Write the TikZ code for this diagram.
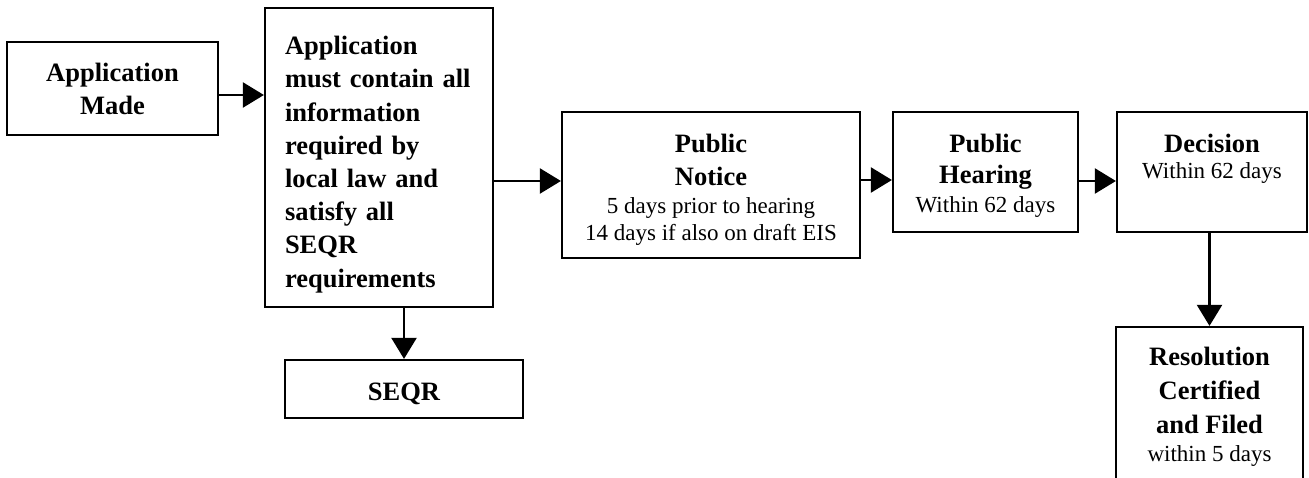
\documentclass[tikz,border=0pt]{standalone}
\usepackage{fontspec}
\setmainfont{Liberation Serif}
\usetikzlibrary{arrows.meta,calc}
\newcommand{\hd}[1]{{\fontsize{26.5}{33}\selectfont\bfseries #1}}
\newcommand{\lift}[1]{\rule{0pt}{#1pt}}
\tikzset{%
  stagebox/.style = {shape=rectangle, draw, line width=2.2pt, align=center,%
                     inner sep=0pt, font=\fontsize{23}{28}\selectfont},%
  flow/.style     = {line width=2.2pt, -{Triangle[length=21pt,width=25pt]}}%
}

\begin{document}
\begin{tikzpicture}[x=1pt,y=-1pt]%
	\useasboundingbox (0,0) rectangle (1309,478);%
	% boxes
	\node[stagebox, minimum width=211pt, minimum height=93pt] (app) at (112.5,88.5)%
		{\hd{Application}\\[5pt]\hd{Made}};%
	\node[stagebox, minimum width=228pt, minimum height=299pt, text width=188pt,%
		align=left, font=\fontsize{26.5}{33.2}\selectfont\bfseries] (req) at (379,157.5)%
		{\lift{32.5}Application\\ must contain all\\ information\\ required by\\ local law and\\%
		 satisfy all\\ SEQR\\ requirements};%
	\node[stagebox, minimum width=238pt, minimum height=58pt] (seqr) at (404,389)%
		{\lift{27}\hd{SEQR}};%
	\node[stagebox, minimum width=298pt, minimum height=146pt] (notice) at (711,185)%
		{\lift{28}\hd{Public}\\[5pt]\hd{Notice}\\5 days prior to hearing\\[-1pt]14 days if also on draft EIS};%
	\node[stagebox, minimum width=185pt, minimum height=120pt] (hearing) at (985.5,172)%
		{\lift{26}\hd{Public}\\[3pt]\hd{Hearing}\\[1pt]Within 62 days};%
	\node[stagebox, minimum width=190pt, minimum height=120pt] (dec) at (1212,172)%
		{\parbox[c][76pt][t]{170pt}{\centering\hd{Decision}\\[-2pt] Within 62 days}};%
	\node[stagebox, minimum width=187pt, minimum height=160pt] (res) at (1209.5,407)%
		{\hd{Resolution}\\[6pt]\hd{Certified}\\[6.5pt]\hd{and Filed}\\within 5 days};%
	% connectors
	\draw[flow] ([yshift=-6.5pt]app.east) -- ([yshift=-6.5pt]app.east -| req.west);%
	\draw[flow] ([yshift=4pt]notice.west -| req.east) -- ([yshift=4pt]notice.west);%
	\draw[flow] ([yshift=-8pt]hearing.west -| notice.east) -- ([yshift=-8pt]hearing.west);%
	\draw[flow] ([yshift=-9pt]hearing.east) -- ([yshift=-9pt]hearing.east -| dec.west);%
	\draw[flow] (req.south -| seqr.north) -- (seqr.north);%
	\draw[flow] (dec.south -| res.north) -- (res.north);%
\end{tikzpicture}
\end{document}
